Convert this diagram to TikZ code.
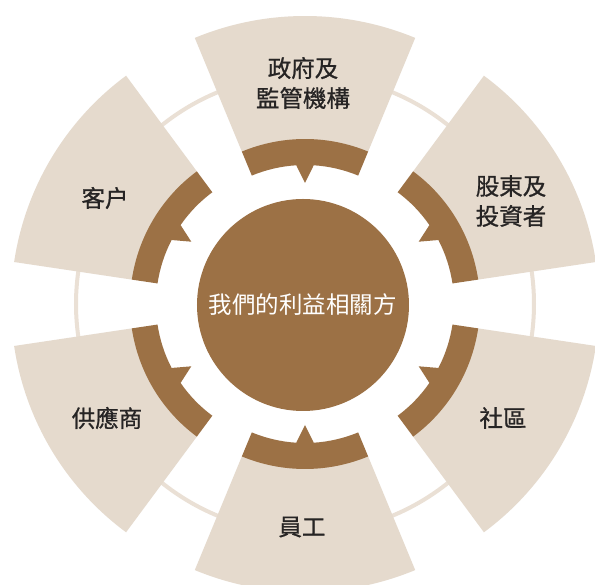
\documentclass[tikz,border=0pt]{standalone}
\usepackage{fontspec}
\setmainfont{Noto Sans CJK TC}
\newfontfamily\lblfont{Noto Sans CJK TC}[FakeBold=0.9]
\definecolor{brownband}{HTML}{9C7145}
\definecolor{beige}{HTML}{E5DACD}
\definecolor{ringc}{HTML}{EAE0D5}
\definecolor{txt}{HTML}{262424}
\tikzset{
  band/.style={fill=brownband},
  panel/.style={fill=beige},
  lbl/.style={text=txt, font=\lblfont\fontsize{23.5}{30}\selectfont, align=center, inner sep=0pt},
  hub/.style={circle, fill=brownband, minimum size=212pt, inner sep=0pt, text=white, font=\fontsize{23.5}{26}\selectfont},
}
% #1 rotation, #2 horizontal shift, #3 outer radius
\newcommand{\stakesector}[3]{%
  \begin{scope}[shift={(#2pt,0pt)}, rotate=#1]
    \fill[panel] (67.5:164pt) arc[start angle=67.5, end angle=112.5, radius=164pt]
      -- (112.5:#3pt) arc[start angle=112.5, end angle=67.5, radius=#3pt] -- cycle;
    \fill[band] (67.5:139pt) -- (67.5:165pt) arc[start angle=67.5, end angle=112.5, radius=165pt]
      -- (112.5:139pt) arc[start angle=112.5, end angle=93.6, radius=139pt]
      -- (90:121pt) -- (86.4:139pt) arc[start angle=86.4, end angle=67.5, radius=139pt] -- cycle;
  \end{scope}}
\begin{document}
\begin{tikzpicture}
  \useasboundingbox (-305pt,-281pt) rectangle (290pt,304pt);
  \fill[white] (-305pt,-281pt) rectangle (290pt,304pt);
  \draw[ringc, line width=4pt] (0,0) circle[radius=229pt];
  \stakesector{0}{0}{288}
  \stakesector{-59}{10}{284}
  \stakesector{-121}{10}{284}
  \stakesector{180}{0}{288}
  \stakesector{121}{-10}{284}
  \stakesector{59}{-10}{284}
  \node[hub] (hub) at (-2pt,-1pt) {我們的利益相關方};
  \node[lbl] (gov) at (-2pt,221pt) {政府及\\監管機構};
  \node[lbl] (share) at (206pt,103pt) {股東及\\投資者};
  \node[lbl] (comm) at (198pt,-114pt) {社區};
  \node[lbl] (staff) at (-3pt,-223pt) {員工};
  \node[lbl] (supp) at (-198pt,-114pt) {供應商};
  \node[lbl] (cust) at (-200pt,106pt) {客户};
\end{tikzpicture}
\end{document}
